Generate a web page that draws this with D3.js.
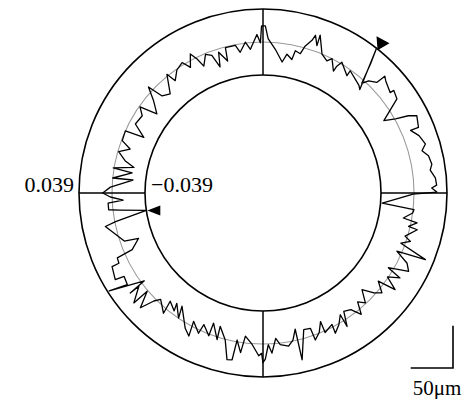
<!DOCTYPE html>
<html>
<head>
<meta charset="utf-8">
<script src="https://cdn.jsdelivr.net/npm/d3@7"></script>
<style>
  html, body { margin: 0; padding: 0; background: #fff; }
  svg { display: block; }
  text { font-family: "Liberation Serif", "DejaVu Serif", serif; fill: #000; }
</style>
</head>
<body>
<div id="chart"></div>
<script>
// roundness profile, angle in degrees clockwise from top, deviation in um
const profileAngle = [
  0.8, 1.9, 4.9, 8.3, 9.8, 12.2, 12.8, 15, 16, 17.8, 18.4, 20.1, 19.9, 23, 25.8, 27.2, 30, 30.2, 31.1, 35.6,
  35.5, 41.7, 43.1, 38.1, 39.7, 42, 43.3, 45.8, 46.2, 47.6, 51.7, 51.9, 54.9, 59.1, 60.8, 62, 63.3, 67.1, 67, 69.8,
  73.2, 75.1, 77.3, 80.3, 82.2, 85, 87.4, 88.3, 89.7, 90.4, 94.8, 96.3, 97.6, 100.1, 101,
  102.9, 103.4, 106.9, 108.2, 110, 112.3, 113.5, 116, 118.3, 120.8, 121.8, 124, 126.2, 127.4, 130, 132, 134.3, 137, 139, 141,
  143, 145.7, 147.8, 147.6, 150, 152.7, 152.3, 156, 155.9, 158, 160.4, 160.7, 163.4, 166.8, 166.7, 168.5, 170.5, 173.5, 175, 176.8,
  178, 179.2, 180,
  180.5, 181.5, 184.1, 187, 188, 190, 190.5, 192.2, 194.4, 197.8, 197.4, 200.8, 200.8, 204.2, 204.7, 208.4, 207.4, 209.9, 215.6, 214,
  218, 217, 220.6, 219.6, 223.9, 225.3, 226.9, 229.7, 229.6, 233.1, 233, 233.5, 237.5, 236, 239, 239.6, 244, 244, 246, 246.6,
  250, 250.9, 255, 258, 259, 261.5, 263.2, 263.8, 266.3, 267.1, 268.5, 270, 272.2, 275.7, 275.7, 278.7, 279.5, 281.2, 283.2, 286,
  288.3, 290.4, 294.3, 295, 298.4, 302.6, 305, 306.7, 310.2, 312.8, 313.9, 316.9, 321, 322, 325, 328.2, 330, 332.4, 333.8, 335,
  337.5, 339.6, 341.2, 342.5, 345, 345.5, 349.4, 350.8, 353.3, 355, 357.8, 359, 359.5
];
const profileDev = [
  19, 4, -8, -22, -12, -17, -6, -8, 2, 11, 18, 7, 20, 0, -5, 0, -12, -5, 2, -8,
  -1, -8, -11, 39, 21, -4, 3.5, 9, 21, 18, 13, 18, 15, -12, 1, 16, 25, 21, 11, 18,
  22, 16, 22, 24, 21, 26, 27, 21, 27, -1, -37, 1, 0, -10, 7,
  -2, 9, -3, 5, -5, 29, -6, 11, 17, -6, 12, -1, 15, -7, 5, -2, -15, -1, -8, 6,
  -6, -9, 8, -8, 1, 8, -3, 2, -12, -1, 6, -9, -10, 24, -13, -1, 5, 2, -6, 11,
  1, 18, 22,
  11, 14, 1, -8, 12, -2, 22, 23, 1, -13, 3, -14, 2, -8, 4, -6, 12, 6, -14, 0,
  -13, -4, -10, 6, -4, 3, 20, 1, 22, 5, 18, -4, 37, 15, 13, 24, 20, 11, 10, -10,
  -22, -5, 4, 12, -1, -39, -8, 5, 5, -13, 2, 11, 2, -24, 0, -22, 1, -23, -11, -1,
  -13, -1, 0, -23, -7, -9, -1, -22, -9, 6, -13, -18, 2, -10, -1, 3, -7, 7, -2, -13,
  -1, -5, -21, -4, -17, -1, -1, -10, 1, -8, 9, -1, 19
];
const limitsMm = [0.039, -0.039];   // outer / inner circle values
const scaleBarUm = 50;

const width = 465, height = 399;
const cx = 263, cy = 193;

const svg = d3.select('#chart')
  .append('svg')
  .attr('width', width)
  .attr('height', height);

const g = svg.append('g')
  .attr('transform', 'translate(' + cx + ',' + cy + ')');

const r = d3.scaleLinear()
  .domain([limitsMm[1] * 1000, limitsMm[0] * 1000])
  .range([118, 184]);

const toRad = d => d * Math.PI / 180;
const data = profileAngle.map((a, i) => ({ a: a, v: profileDev[i] }));

// reference circle
g.append('circle')
  .attr('r', r(0))
  .attr('fill', 'none')
  .attr('stroke', '#9a9a9a')
  .attr('stroke-width', 1.1);

// outer / inner circles
[limitsMm[0], limitsMm[1]].forEach(m => {
  g.append('circle')
    .attr('r', r(m * 1000))
    .attr('fill', 'none')
    .attr('stroke', '#000')
    .attr('stroke-width', 1.6);
});

// cross ticks between the circles
[0, 90, 180, 270].forEach(a => {
  const p0 = d3.pointRadial(toRad(a), r(limitsMm[1] * 1000));
  const p1 = d3.pointRadial(toRad(a), r(limitsMm[0] * 1000));
  g.append('line')
    .attr('x1', p0[0]).attr('y1', p0[1])
    .attr('x2', p1[0]).attr('y2', p1[1])
    .attr('stroke', '#000')
    .attr('stroke-width', 1.5);
});

// profile
const line = d3.lineRadial()
  .angle(d => toRad(d.a))
  .radius(d => r(d.v))
  .curve(d3.curveLinearClosed);

g.append('path')
  .datum(data)
  .attr('d', line)
  .attr('fill', 'none')
  .attr('stroke', '#000')
  .attr('stroke-width', 1.3)
  .attr('stroke-linejoin', 'round');

// max / min markers
const maxD = data.reduce((p, d) => d.v > p.v ? d : p);
const minD = data.reduce((p, d) => d.v < p.v ? d : p);
const pMax = d3.pointRadial(toRad(maxD.a), r(maxD.v));
const pMin = d3.pointRadial(toRad(minD.a), r(minD.v));

g.append('path')
  .attr('d', 'M' + pMax[0] + ',' + (pMax[1] - 12) +
             'L' + (pMax[0] + 13) + ',' + (pMax[1] - 5) +
             'L' + (pMax[0] + 1) + ',' + (pMax[1] + 2) + 'Z')
  .attr('fill', '#000');

g.append('path')
  .attr('d', 'M' + (pMin[0] + 1) + ',' + pMin[1] +
             'L' + (pMin[0] + 14) + ',' + (pMin[1] - 5) +
             'L' + (pMin[0] + 14) + ',' + (pMin[1] + 5) + 'Z')
  .attr('fill', '#000');

// limit labels
g.append('text')
  .attr('x', -r(limitsMm[0] * 1000) - 5)
  .attr('y', -1)
  .attr('text-anchor', 'end')
  .attr('font-size', 22)
  .text(limitsMm[0].toFixed(3));

g.append('text')
  .attr('x', -r(limitsMm[1] * 1000) + 6)
  .attr('y', -1)
  .attr('text-anchor', 'start')
  .attr('font-size', 22)
  .text('\u2212' + Math.abs(limitsMm[1]).toFixed(3));

// scale bar
const barLen = r(limitsMm[1] * 1000 + scaleBarUm) - r(limitsMm[1] * 1000);
const bx = 453, by = 368;
svg.append('path')
  .attr('d', 'M' + bx + ',' + (by - barLen) + 'L' + bx + ',' + by + 'L' + (bx - barLen) + ',' + by)
  .attr('fill', 'none')
  .attr('stroke', '#000')
  .attr('stroke-width', 1.6);

svg.append('text')
  .attr('x', 437)
  .attr('y', 395)
  .attr('text-anchor', 'middle')
  .attr('font-size', 21)
  .text(scaleBarUm + '\u03bcm');
</script>
</body>
</html>
